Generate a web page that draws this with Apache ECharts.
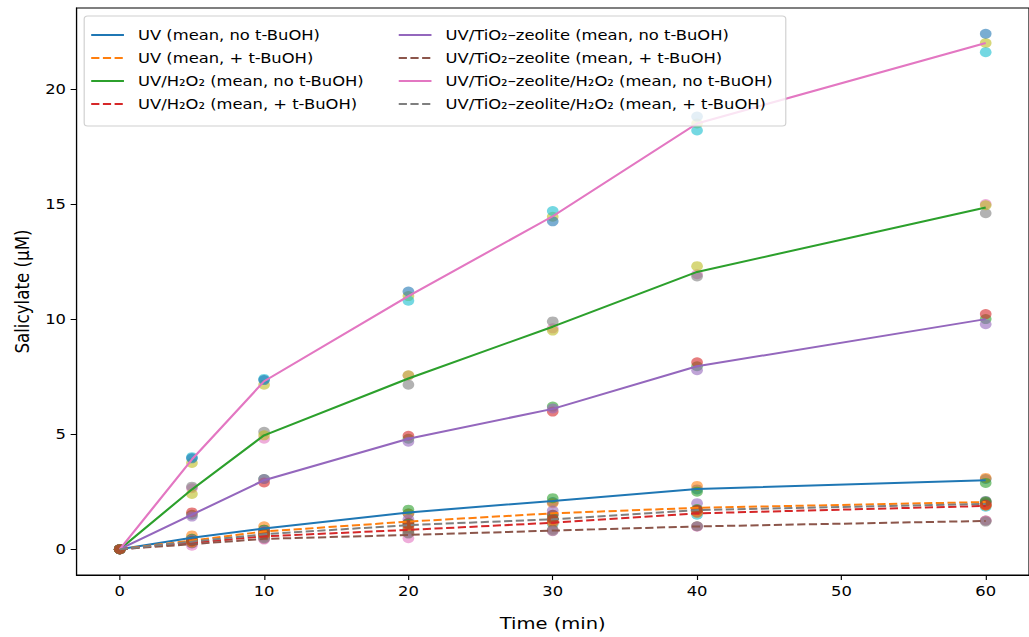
<!DOCTYPE html>
<html>
<head>
<meta charset="utf-8">
<script src="https://cdn.jsdelivr.net/npm/echarts@6/dist/echarts.min.js"></script>
<style>
html,body{margin:0;padding:0;background:#fff;overflow:hidden;width:1029px;height:637px}
#c{width:880px;height:637px;transform:scaleX(1.169318);transform-origin:0 0}
</style>
</head>
<body>
<div id="c"></div>
<script>
// ---- data ----
const times = [0, 5, 10, 20, 30, 40, 60];
const xTicks = [0, 10, 20, 30, 40, 50, 60];
const yTicks = [0, 5, 10, 15, 20];

const seriesNames = [
  'UV (mean, no t-BuOH)',
  'UV (mean, + t-BuOH)',
  'UV/H₂O₂ (mean, no t-BuOH)',
  'UV/H₂O₂ (mean, + t-BuOH)',
  'UV/TiO₂–zeolite (mean, no t-BuOH)',
  'UV/TiO₂–zeolite (mean, + t-BuOH)',
  'UV/TiO₂–zeolite/H₂O₂ (mean, no t-BuOH)',
  'UV/TiO₂–zeolite/H₂O₂ (mean, + t-BuOH)'
];

// mean curves
const meanUvNo    = [0, 0.50, 0.90, 1.60, 2.10, 2.62, 3.00];
const meanUvTb    = [0, 0.38, 0.77, 1.20, 1.56, 1.80, 2.05];
const meanH2o2No  = [0, 2.60, 4.95, 7.42, 9.67, 12.05, 14.85];
const meanH2o2Tb  = [0, 0.28, 0.56, 0.84, 1.15, 1.56, 1.88];
const meanTzNo    = [0, 1.50, 3.00, 4.80, 6.10, 7.95, 10.00];
const meanTzTb    = [0, 0.22, 0.45, 0.62, 0.81, 0.99, 1.23];
const meanTzhNo   = [0, 3.90, 7.30, 11.00, 14.47, 18.50, 22.00];
const meanTzhTb   = [0, 0.33, 0.65, 1.05, 1.30, 1.70, 1.97];

// replicate measurements (3 per condition)
const repUvNo = [
  [0, 0.45, 0.85, 1.55, 2.05, 2.60, 3.05],
  [0, 0.60, 1.00, 1.55, 2.00, 2.75, 3.10],
  [0, 0.45, 0.85, 1.72, 2.22, 2.50, 2.88]
];
const repUvTb = [
  [0, 0.35, 0.75, 1.15, 1.50, 1.70, 2.00],
  [0, 0.42, 0.80, 1.30, 1.68, 2.00, 2.10],
  [0, 0.37, 0.76, 1.15, 1.50, 1.70, 2.05]
];
const repH2o2No = [
  [0, 2.65, 4.80, 7.55, 9.60, 11.95, 15.00],
  [0, 2.72, 5.10, 7.15, 9.90, 11.85, 14.60],
  [0, 2.40, 4.95, 7.56, 9.50, 12.30, 14.95]
];
const repH2o2Tb = [
  [0, 0.27, 0.55, 0.80, 1.10, 1.50, 1.85],
  [0, 0.30, 0.58, 0.90, 1.20, 1.60, 1.90],
  [0, 0.27, 0.55, 0.82, 1.15, 1.58, 1.90]
];
const repTzNo = [
  [0, 1.50, 3.05, 4.80, 6.20, 7.95, 10.00],
  [0, 1.60, 2.90, 4.93, 5.98, 8.12, 10.22],
  [0, 1.42, 3.05, 4.67, 6.12, 7.78, 9.78]
];
const repTzTb = [
  [0, 0.25, 0.45, 0.70, 0.85, 1.00, 1.25],
  [0, 0.15, 0.42, 0.48, 0.78, 0.98, 1.25],
  [0, 0.26, 0.48, 0.68, 0.80, 1.00, 1.20]
];
const repTzhNo = [
  [0, 3.75, 7.15, 11.00, 14.45, 18.50, 22.00],
  [0, 4.00, 7.40, 10.80, 14.70, 18.20, 21.60],
  [0, 3.95, 7.35, 11.20, 14.25, 18.80, 22.40]
];
const repTzhTb = [
  [0, 0.30, 0.62, 1.00, 1.25, 1.65, 1.90],
  [0, 0.35, 0.68, 1.10, 1.35, 1.75, 2.08],
  [0, 0.34, 0.65, 1.05, 1.30, 1.70, 1.93]
];

const means = [meanUvNo, meanUvTb, meanH2o2No, meanH2o2Tb, meanTzNo, meanTzTb, meanTzhNo, meanTzhTb];
const reps = [repUvNo, repUvTb, repH2o2No, repH2o2Tb, repTzNo, repTzTb, repTzhNo, repTzhTb];

// ---- styles ----
const tab10 = ['#1f77b4', '#ff7f0e', '#2ca02c', '#d62728', '#9467bd', '#8c564b', '#e377c2', '#7f7f7f', '#bcbd22', '#17becf'];
const dashedIdx = [1, 3, 5, 7];
const FONT = 'DejaVu Sans';

const series = [];
reps.forEach((condReps, ci) => {
  condReps.forEach((r, ri) => {
    series.push({
      type: 'scatter',
      name: 'rep' + ci + '_' + ri,
      data: times.map((t, k) => [t, r[k]]),
      symbolSize: 10,
      itemStyle: { color: tab10[(ci * 3 + ri) % 10], opacity: 0.6 },
      z: 1,
      silent: true
    });
  });
});
means.forEach((m, i) => {
  series.push({
    type: 'line',
    name: seriesNames[i],
    data: times.map((t, k) => [t, m[k]]),
    symbol: 'none',
    color: tab10[i],
    lineStyle: { color: tab10[i], width: 2, type: dashedIdx.includes(i) ? [7, 3] : 'solid' },
    z: 3,
    silent: true
  });
});

const legendCommon = {
  orient: 'vertical',
  top: 28,
  padding: 0,
  itemWidth: 28,
  itemHeight: 14,
  itemGap: 9,
  selectedMode: false,
  z: 100,
  itemStyle: { opacity: 0, borderWidth: 0 },
  textStyle: { fontFamily: FONT, fontSize: 14, color: '#000', padding: [0, 0, 0, 7] }
};

const option = {
  animation: false,
  backgroundColor: '#fff',
  textStyle: { fontFamily: FONT },
  grid: { left: 65.4, top: 8, width: 818.4, height: 569, show: true, borderColor: '#000', borderWidth: 1, backgroundColor: 'transparent' },
  xAxis: {
    type: 'value', min: -3, max: 63,
    name: 'Time (min)', nameLocation: 'middle', nameGap: 40,
    nameTextStyle: { fontFamily: FONT, fontSize: 16.7, color: '#000' },
    axisLine: { show: true, onZero: false, lineStyle: { color: '#000', width: 1 } },
    axisTick: { show: true, inside: false, length: 5, lineStyle: { color: '#000' }, customValues: xTicks },
    axisLabel: { fontFamily: FONT, fontSize: 14, color: '#000', margin: 9, customValues: xTicks },
    splitLine: { show: false }
  },
  yAxis: {
    type: 'value', min: -1.12, max: 23.52,
    name: 'Salicylate (μM)', nameLocation: 'middle', nameGap: 27,
    nameTextStyle: { fontFamily: FONT, fontSize: 16.7, color: '#000' },
    axisLine: { show: true, onZero: false, lineStyle: { color: '#000', width: 1 } },
    axisTick: { show: true, inside: false, length: 5, lineStyle: { color: '#000' }, customValues: yTicks },
    axisLabel: { fontFamily: FONT, fontSize: 14, color: '#000', margin: 9, customValues: yTicks },
    splitLine: { show: false }
  },
  legend: [
    Object.assign({}, legendCommon, { left: 77, data: seriesNames.slice(0, 4) }),
    Object.assign({}, legendCommon, { left: 340, data: seriesNames.slice(4, 8) })
  ],
  graphic: [{
    type: 'rect', z: 50, silent: true,
    shape: { x: 72, y: 16, width: 600, height: 110, r: 3 },
    style: { fill: 'rgba(255,255,255,0.8)', stroke: '#d0d0d0', lineWidth: 1 }
  }],
  series: series
};

const chart = echarts.init(document.getElementById('c'), null, { renderer: 'svg' });
chart.setOption(option);
</script>
</body>
</html>
